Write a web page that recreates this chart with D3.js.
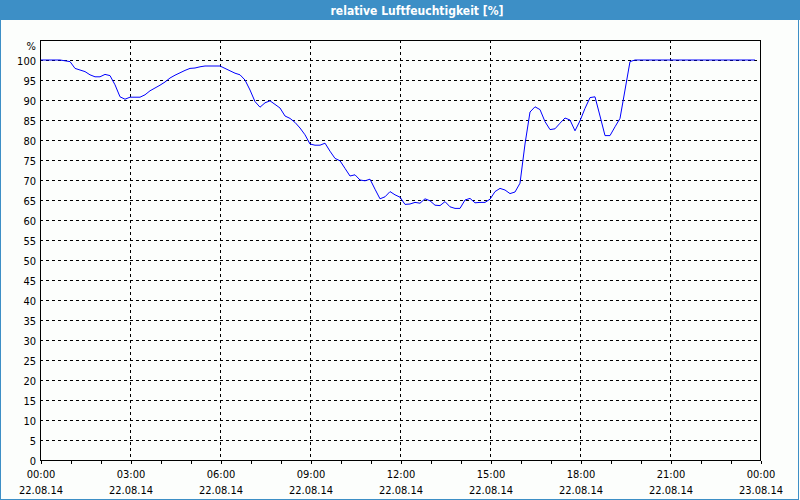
<!DOCTYPE html>
<html>
<head>
<meta charset="utf-8">
<script src="https://cdn.jsdelivr.net/npm/d3@7"></script>
<style>
  html, body { margin: 0; padding: 0; background: #fcfefc; }
  svg { display: block; }
  text { font-family: "DejaVu Sans Condensed", "DejaVu Sans", sans-serif; font-stretch: condensed; }
</style>
</head>
<body>
<svg id="chart" width="800" height="500"></svg>
<script>
// ---- data ----
const chartTitle = "relative Luftfeuchtigkeit [%]";
const unitLabel = "%";
const startDate = "2014-08-22";
// sample times (HH:MM on 22.08.14)
const times = [
  "00:00","00:10","00:20","00:30","00:40","00:50","01:00","01:10","01:20","01:30","01:40","01:50",
  "02:00","02:10","02:20","02:30","02:40","02:50","03:00","03:10","03:20","03:30","03:40","03:50",
  "04:00","04:10","04:20","04:30","04:40","04:50","05:00","05:10","05:20","05:30","05:40","05:50",
  "06:00","06:10","06:20","06:30","06:40","06:50","07:00","07:10","07:20","07:30","07:40","07:50",
  "08:00","08:10","08:20","08:30","08:40","08:50","09:00","09:10","09:20","09:30","09:40","09:50",
  "10:00","10:10","10:20","10:30","10:40","10:50","11:00","11:10","11:20","11:30","11:40","11:50",
  "12:00","12:10","12:20","12:30","12:40","12:50","13:00","13:10","13:20","13:30","13:40","13:50",
  "14:00","14:10","14:20","14:30","14:40","14:50","15:00","15:10","15:20","15:30","15:40","15:50",
  "16:00","16:10","16:20","16:30","16:40","16:50","17:00","17:10","17:20","17:30","17:40","17:50",
  "18:00","18:10","18:20","18:30","18:40","18:50","19:00","19:10","19:20","19:30","19:40","19:50",
  "20:00","20:10","20:20","20:30","20:40","20:50","21:00","21:10","21:20","21:30","21:40","21:50",
  "22:00","22:10","22:20","22:30","22:40","22:50","23:00","23:10","23:20","23:30","23:40","23:50"
];
const humidity = [
  100,100,100,100,100,99.8,99.6,97.9,97.5,97.1,96.3,95.8,
  95.8,96.4,96.1,93.8,90.8,90.2,90.7,90.7,90.7,91.3,92.3,93.0,
  93.7,94.5,95.5,96.2,96.8,97.4,97.9,98.0,98.3,98.5,98.5,98.5,
  98.5,97.9,97.3,96.7,96.3,95.0,92.5,89.6,88.2,89.3,89.8,88.9,
  88.0,86.0,85.4,84.4,83.0,81.3,79.0,78.7,78.7,79.2,77.2,75.4,
  74.8,72.9,71.0,71.3,70.0,69.8,70.2,67.7,65.3,65.8,67.1,66.3,
  65.7,63.9,64.0,64.4,64.2,65.3,64.8,63.7,63.6,64.6,63.3,62.9,
  62.9,65.0,65.4,64.3,64.4,64.4,65.2,67.1,67.9,67.5,66.6,67.0,
  69.2,79.0,87.0,88.3,87.6,84.6,82.6,82.8,84.2,85.5,85.0,82.3,
  84.8,87.9,90.6,90.8,86.0,81.1,81.1,83.3,85.4,92.5,99.6,100,
  100,100,100,100,100,100,100,100,100,100,100,100,
  100,100,100,100,100,100,100,100,100,100,100,100
];
const yTicks = [0,5,10,15,20,25,30,35,40,45,50,55,60,65,70,75,80,85,90,95,100];
const xTickTimes = ["2014-08-22T00:00","2014-08-22T03:00","2014-08-22T06:00","2014-08-22T09:00","2014-08-22T12:00","2014-08-22T15:00","2014-08-22T18:00","2014-08-22T21:00","2014-08-23T00:00"];

// ---- chart ----
const W = 800, H = 500;
const margin = {left: 40, right: 40, top: 40, bottom: 40};
const svg = d3.select("#chart");
const parse = d3.timeParse("%Y-%m-%dT%H:%M");
const data = times.map((t, i) => ({ t: parse(startDate + "T" + t), v: humidity[i] }));
const xTicks = xTickTimes.map(parse);

const x = d3.scaleTime().domain([xTicks[0], xTicks[xTicks.length - 1]]).range([margin.left, W - margin.right]);
const y = d3.scaleLinear().domain([0, 105]).range([H - margin.bottom, margin.top]);

// background + frame
svg.append("rect").attr("x", 0).attr("y", 0).attr("width", W).attr("height", H).attr("fill", "#fcfefc");
svg.append("rect").attr("x", 0).attr("y", 0).attr("width", W).attr("height", 20).attr("fill", "#3d8fc6");
svg.append("rect").attr("x", 0.5).attr("y", 0.5).attr("width", W - 2).attr("height", H - 1)
  .attr("fill", "none").attr("stroke", "#3d8fc6").attr("stroke-width", 1);
svg.append("text").attr("x", 417).attr("y", 14.5).attr("text-anchor", "middle")
  .attr("fill", "#ffffff").attr("font-weight", "bold").attr("font-size", 12).text(chartTitle);

// gridlines
const grid = svg.append("g").attr("stroke", "#000").attr("stroke-width", 1).attr("stroke-dasharray", "3,3").attr("shape-rendering", "crispEdges");
grid.selectAll("line.h").data(yTicks.filter(d => d > 0)).join("line")
  .attr("x1", margin.left).attr("x2", W - margin.right)
  .attr("y1", d => Math.round(y(d)) + 0.5).attr("y2", d => Math.round(y(d)) + 0.5);
grid.selectAll("line.v").data(xTicks.slice(1, -1)).join("line")
  .attr("y1", margin.top).attr("y2", H - margin.bottom)
  .attr("x1", d => Math.round(x(d)) + 0.5).attr("x2", d => Math.round(x(d)) + 0.5);

// line
const line = d3.line().x(d => x(d.t)).y(d => y(d.v));
svg.append("path").datum(data).attr("d", line).attr("fill", "none").attr("stroke", "#0000ff").attr("stroke-width", 1);

// plot border
svg.append("rect").attr("x", margin.left + 0.5).attr("y", margin.top + 0.5)
  .attr("width", W - margin.left - margin.right).attr("height", H - margin.top - margin.bottom)
  .attr("fill", "none").attr("stroke", "#000").attr("shape-rendering", "crispEdges");

// x axis (hourly minor ticks, labels every 3 h)
const hourTicks = d3.timeHour.range(xTicks[0], d3.timeMinute.offset(xTicks[xTicks.length - 1], 1));
const xAxisG = svg.append("g").attr("transform", `translate(0.5,${H - margin.bottom + 0.5})`)
  .call(d3.axisBottom(x).tickValues(hourTicks).tickSize(3).tickFormat(""));
xAxisG.select(".domain").remove();
xAxisG.selectAll("line").attr("stroke", "#000").attr("shape-rendering", "crispEdges");

const fmtTime = d3.timeFormat("%H:%M"), fmtDate = d3.timeFormat("%d.%m.%y");
const xl = svg.append("g").attr("font-size", 11).attr("fill", "#000").attr("text-anchor", "middle");
xl.selectAll("text.t").data(xTicks).join("text").attr("x", d => x(d) + 1).attr("y", 478).text(fmtTime);
xl.selectAll("text.d").data(xTicks).join("text").attr("x", d => x(d) + 1).attr("y", 494).text(fmtDate);

// y axis labels
const yAxisG = svg.append("g").attr("transform", `translate(${margin.left},0.5)`)
  .call(d3.axisLeft(y).tickValues(yTicks).tickSize(0).tickPadding(4));
yAxisG.select(".domain").remove();
yAxisG.selectAll("text").attr("font-size", 11).attr("fill", "#000")
  .attr("font-family", "'DejaVu Sans Condensed', 'DejaVu Sans', sans-serif");
svg.append("text").attr("x", 36).attr("y", 50).attr("text-anchor", "end").attr("font-size", 11).text(unitLabel);
</script>
</body>
</html>
